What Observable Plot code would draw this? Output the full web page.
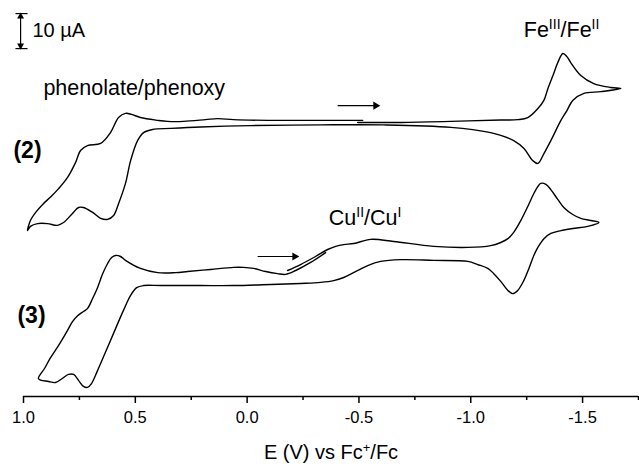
<!DOCTYPE html>
<html><head><meta charset="utf-8">
<script src="https://cdn.jsdelivr.net/npm/d3@7"></script>
<script src="https://cdn.jsdelivr.net/npm/@observablehq/plot@0.6"></script>
<style>
body{margin:0;background:#fff;}
#chart svg{display:block;font-family:"Liberation Sans",Arial,Helvetica,sans-serif;}
</style></head><body><div id="chart"></div>
<script>
// ---- data (E in V vs Fc+/Fc, current in µA with vertical stacking offset) ----
const curve2E = [-0.494,-0.687,-0.911,-1.134,-1.210,-1.255,-1.300,-1.327,-1.345,-1.371,-1.389,-1.412,-1.430,-1.447,-1.492,-1.550,-1.626,-1.671,
  -1.582,-1.506,-1.456,-1.430,-1.403,-1.358,-1.327,-1.300,-1.277,-1.237,-1.192,-1.134,-1.089,-0.911,-0.611,-0.329,-0.016,0.208,0.342,0.423,
  0.463,0.490,0.521,0.544,0.575,0.597,0.624,0.655,0.691,0.732,0.754,0.781,0.821,0.848,0.893,0.937,0.969,0.982,
  0.969,0.942,0.911,0.879,0.843,0.803,0.767,0.745,0.714,0.655,0.611,0.575,0.544,0.517,0.477,0.400,0.356,0.284,0.186,0.132,0.060,-0.092,-0.329,-0.517];
const curve2I = [78.3,78.3,78.6,79.0,79.1,79.7,82.3,84.6,88.0,92.3,95.4,98.0,97.1,95.4,91.7,89.4,88.3,88.0,
  87.1,86.6,84.6,81.7,78.9,73.1,69.4,66.6,67.4,70.9,73.1,74.6,75.4,76.9,77.6,77.6,77.4,77.0,76.6,76.3,
  75.4,73.1,67.4,60.9,55.1,51.7,50.6,50.9,52.6,54.0,54.0,52.3,49.7,48.9,49.4,49.4,48.6,47.4,
  50.3,52.9,55.1,57.0,59.4,62.6,66.9,70.3,71.7,72.3,75.4,79.7,80.9,80.6,79.7,78.9,78.6,78.6,79.1,79.4,79.1,78.9,78.9,78.9];

const curve3E = [-0.181,-0.239,-0.306,-0.360,-0.396,-0.432,-0.477,-0.553,-0.655,-0.834,-0.987,-1.089,-1.134,-1.166,-1.192,-1.224,-1.255,-1.282,-1.300,-1.313,
  -1.336,-1.358,-1.389,-1.416,-1.456,-1.492,-1.537,-1.573,-1.523,-1.456,-1.403,-1.358,-1.327,-1.300,-1.282,-1.260,-1.237,-1.210,-1.188,-1.166,
  -1.134,-1.103,-1.076,-1.031,-0.987,-0.834,-0.687,-0.597,-0.539,-0.432,-0.387,-0.329,-0.239,-0.105,0.060,0.208,0.387,0.463,0.494,0.521,
  0.553,0.611,0.669,0.696,0.714,0.732,0.754,0.776,0.799,0.821,0.857,0.888,0.933,0.906,0.879,0.843,0.803,0.781,0.758,0.732,
  0.714,0.691,0.669,0.647,0.624,0.606,0.588,0.566,0.544,0.477,0.400,0.320,0.266,0.163,0.060,0.016,-0.029,-0.083,-0.136,-0.172,-0.217,-0.284,-0.351];
const curve3I = [36.0,37.7,40.0,42.0,42.9,43.4,43.7,44.9,44.3,42.9,42.6,43.1,44.0,45.1,46.9,50.3,54.3,58.0,60.0,60.9,
  60.6,59.1,56.3,54.0,52.0,50.9,50.3,49.7,48.6,48.0,47.4,46.6,45.1,42.6,40.3,36.6,33.1,30.3,29.4,30.3,
  32.9,35.1,36.6,37.7,38.6,38.9,39.1,38.6,37.4,34.0,33.1,32.6,32.3,32.0,31.7,31.7,31.7,31.7,31.1,28.9,
  24.6,16.0,7.4,3.7,2.6,2.9,4.6,6.3,6.3,5.4,4.0,4.3,5.1,8.0,11.1,14.6,18.9,21.4,23.1,24.3,
  25.1,28.0,31.1,34.9,38.0,39.7,40.3,40.0,38.9,36.6,35.4,35.4,35.7,36.3,36.9,36.9,36.6,35.7,35.1,34.9,36.0,38.3,41.1];

const xTicks = [1.0, 0.5, 0.0, -0.5, -1.0, -1.5];
const xMinorTicks = [0.75, 0.25, -0.25, -0.75, -1.25, -1.75];
const xTitle = "E (V) vs Fc^{+}/Fc";
const curveNames = ["(2)", "(3)"];
const coupleLabels = ["phenolate/phenoxy", "Fe^{III}/Fe^{II}", "Cu^{II}/Cu^{I}"];
const scaleBarLabel = "10 µA";
const scaleBarSpan = 10;            // µA
// scan-direction arrows: start E, end E, current level
const arrowStartE = [-0.405, -0.047];
const arrowEndE = [-0.588, -0.226];
const arrowI = [83.1, 40.0];

// ---- build tables ----
const pts2 = curve2E.map((e, k) => ({E: e, I: curve2I[k]}));
const pts3 = curve3E.map((e, k) => ({E: e, I: curve3I[k]}));
const arrows = arrowStartE.map((e, k) => ({x1: e, x2: arrowEndE[k], y: arrowI[k]}));

const barE = 1.013, barBottom = 99.4, barTop = barBottom + scaleBarSpan;

const labelRows = [
  {t: coupleLabels[0], E: 0.911, I: 88.2},
  {t: coupleLabels[1], E: -1.237, I: 104.8},
  {t: coupleLabels[2], E: -0.365, I: 51.1}
];
const nameRows = [
  {t: curveNames[0], E: 1.045, I: 70.3},
  {t: curveNames[1], E: 1.027, I: 23.1}
];

const ff = '"Liberation Sans", Arial, Helvetica, sans-serif';

const svg = Plot.plot({
  width: 639, height: 464,
  marginLeft: 23, marginRight: 1, marginTop: 0, marginBottom: 68,
  style: {fontFamily: ff, background: "#fff", color: "#000", overflow: "visible"},
  x: {domain: [1.0, -1.75], axis: null},
  y: {domain: [0, 113.14], axis: null},
  marks: [
    Plot.line(pts2, {x: "E", y: "I", curve: "catmull-rom", stroke: "#000", strokeWidth: 1.4}),
    Plot.line(pts3, {x: "E", y: "I", curve: "catmull-rom", stroke: "#000", strokeWidth: 1.4}),
    Plot.ruleY([0], {stroke: "#000", strokeWidth: 1.6}),
    Plot.axisX({ticks: xTicks, tickSize: 7, tickPadding: 8, tickFormat: v => v.toFixed(1), fontSize: 16.5, label: null, strokeWidth: 1.5}),
    Plot.axisX({ticks: xMinorTicks, tickSize: 4, fill: "none", label: null, strokeWidth: 1.5}),
    Plot.text([xTitle], {frameAnchor: "bottom", lineAnchor: "middle", dy: 56, fontSize: 20, fill: "#000"}),
    // scan direction arrows
    Plot.link(arrows, {x1: "x1", x2: "x2", y1: "y", y2: "y", stroke: "#000", strokeWidth: 1.2}),
    Plot.dot(arrows, {x: "x2", y: "y", symbol: "triangle", rotate: 90, r: 3, fill: "#000", stroke: "none", dx: -3}),
    // scale bar
    Plot.link([{}], {x1: barE, x2: barE, y1: barBottom, y2: barTop, stroke: "#000", strokeWidth: 1.2}),
    Plot.link([{y: barTop}, {y: barBottom}], {x1: 1.036, x2: 0.982, y1: "y", y2: "y", stroke: "#000", strokeWidth: 1.2}),
    Plot.dot([{y: barTop}], {x: barE, y: "y", symbol: "triangle", rotate: 0, r: 2.6, fill: "#000", stroke: "none", dy: 3}),
    Plot.dot([{y: barBottom}], {x: barE, y: "y", symbol: "triangle", rotate: 180, r: 2.6, fill: "#000", stroke: "none", dy: -3}),
    Plot.text([scaleBarLabel], {x: 0.960, y: 104.4, textAnchor: "start", fontSize: 20, fill: "#000"}),
    // labels
    Plot.text(labelRows, {x: "E", y: "I", text: "t", textAnchor: "start", fontSize: 21.5, fill: "#000"}),
    Plot.text(nameRows, {x: "E", y: "I", text: "t", textAnchor: "start", fontSize: 23, fontWeight: "bold", fill: "#000"})
  ]
});

// superscript rendering for texts written as X^{sup}
const NS = "http://www.w3.org/2000/svg";
svg.querySelectorAll("text").forEach(t => {
  const s = t.textContent;
  if (!s.includes("^{")) return;
  while (t.firstChild) t.removeChild(t.firstChild);
  const parts = s.split(/(\^\{[^}]*\})/).filter(p => p.length);
  let prevSup = false;
  parts.forEach(p => {
    const ts = document.createElementNS(NS, "tspan");
    if (p.startsWith("^{")) {
      ts.textContent = p.slice(2, -1);
      ts.setAttribute("font-size", "0.65em");
      ts.setAttribute("dy", "-0.55em");
      prevSup = true;
    } else {
      ts.textContent = p;
      if (prevSup) ts.setAttribute("dy", "0.3575em");
      prevSup = false;
    }
    t.appendChild(ts);
  });
});

document.getElementById("chart").appendChild(svg);
</script></body></html>
